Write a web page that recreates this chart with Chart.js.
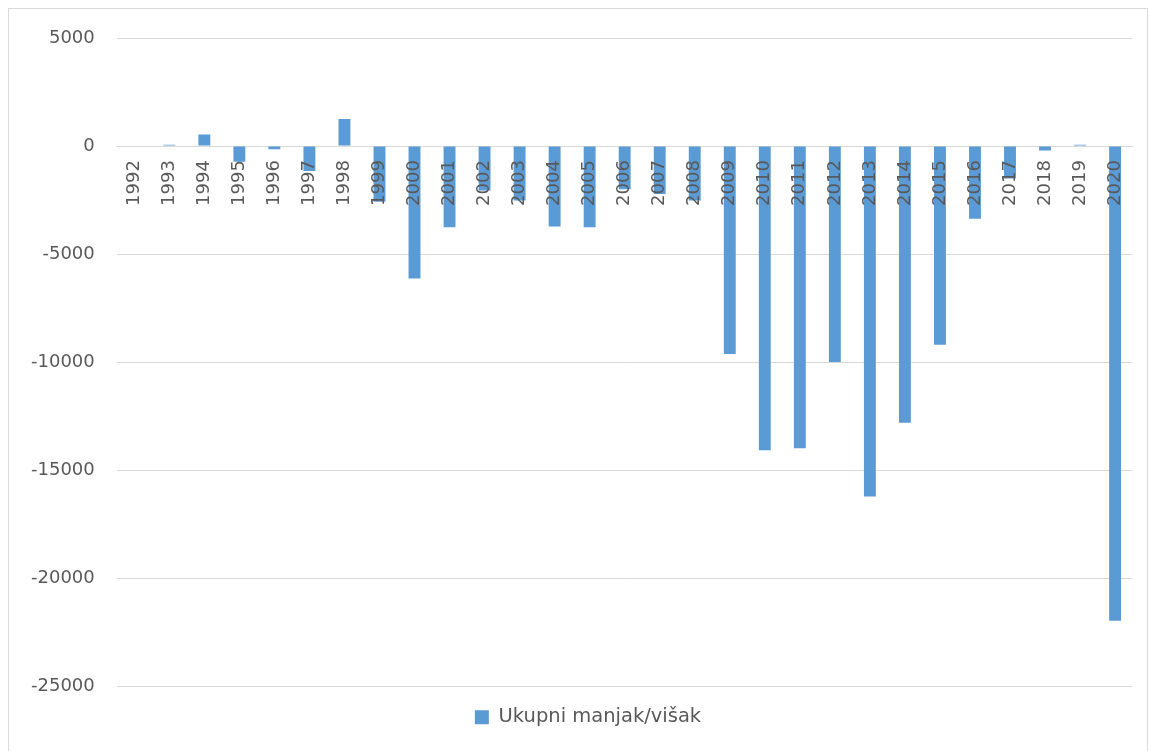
<!DOCTYPE html>
<html>
<head>
<meta charset="utf-8">
<script src="https://cdn.jsdelivr.net/npm/chart.js@4.4.1/dist/chart.umd.min.js"></script>
<style>
  html, body { margin: 0; padding: 0; background: #fff; }
  .frame { position: absolute; left: 8px; top: 8px; width: 1140px; height: 760px; border: 1px solid #d9d9d9; box-sizing: border-box; }
  .image { position: absolute; left: 0; top: 0; width: 1151px; height: 751px; }
</style>
</head>
<body>
<div class="frame"></div>
<div class="image">
  <canvas id="deficit-chart" width="1151" height="751"></canvas>
</div>
<script>
const years = ['1992', '1993', '1994', '1995', '1996', '1997', '1998', '1999', '2000', '2001',
  '2002', '2003', '2004', '2005', '2006', '2007', '2008', '2009', '2010', '2011',
  '2012', '2013', '2014', '2015', '2016', '2017', '2018', '2019', '2020'];

const ukupniManjakVisak = [0, 60, 540, -730, -150, -1150, 1250, -2570, -6120, -3760,
  -2060, -2520, -3720, -3760, -2000, -2220, -2520, -9620, -14070, -13980,
  -9990, -16210, -12800, -9190, -3360, -1500, -200, 60, -21960];

const yTicks = [5000, 0, -5000, -10000, -15000, -20000, -25000];

// nudge the legend a bit to the right, like the original
const legendShift = {
  id: 'legendShift',
  afterLayout(chart) {
    chart.legend.left += 17;
    chart.legend.right += 17;
  }
};

const container = document.getElementById('deficit-chart').getContext('2d');

const chart = new Chart(container, {
  type: 'bar',
  data: {
    labels: years,
    datasets: [
      {
        label: 'Ukupni manjak/višak',
        data: ukupniManjakVisak,
        backgroundColor: '#5b9bd5',
        borderWidth: 0,
        barPercentage: 1,
        categoryPercentage: 0.34,
      },
    ]
  },
  plugins: [legendShift],
  options: {
    responsive: false,
    animation: false,
    devicePixelRatio: 1,
    layout: {
      padding: { top: 38, right: 18, bottom: 14, left: 9 }
    },
    plugins: {
      legend: {
        position: 'bottom',
        labels: {
          boxWidth: 14,
          boxHeight: 14,
          padding: 21,
          color: '#595959',
          font: { family: 'DejaVu Sans', size: 19.5 }
        }
      },
      tooltip: { enabled: false },
    },
    scales: {
      x: {
        position: { y: 0 },
        grid: { display: false, drawTicks: false },
        border: { display: true, color: '#d9d9d9', width: 1 },
        ticks: {
          z: 1,
          autoSkip: false,
          maxRotation: 90,
          minRotation: 90,
          padding: 14,
          color: '#595959',
          font: { family: 'DejaVu Sans', size: 18 }
        }
      },
      y: {
        min: -25000,
        max: 5000,
        afterBuildTicks: (axis) => {
          axis.ticks = yTicks.map(v => ({ value: v }));
        },
        grid: { color: '#d9d9d9', lineWidth: 1, drawTicks: false },
        border: { display: false },
        ticks: {
          padding: 22,
          color: '#595959',
          font: { family: 'DejaVu Sans', size: 18 },
          callback: (value) => String(value)
        }
      }
    }
  }
});
</script>
</body>
</html>
